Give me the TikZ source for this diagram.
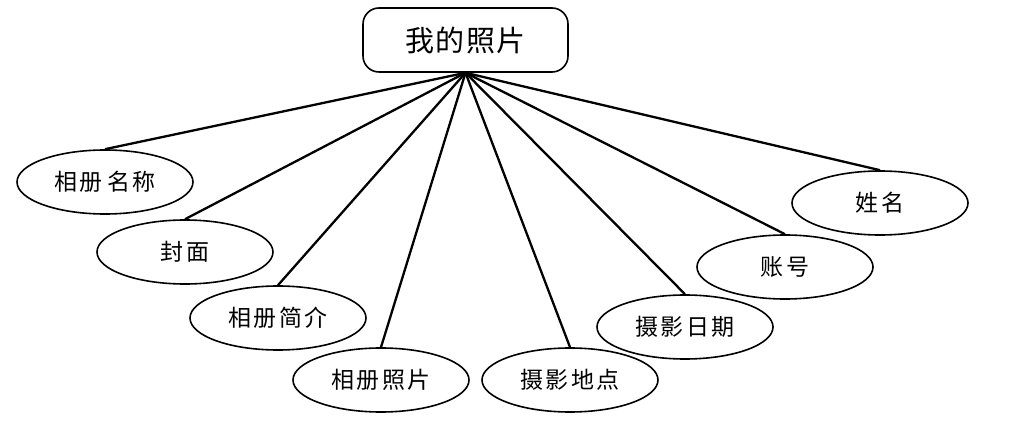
\documentclass[tikz,border=0pt]{standalone}
\usepackage{fontspec}
\newfontfamily\cjk{Noto Sans CJK SC}
\newfontfamily\cjkA[LetterSpace=9]{Noto Sans CJK SC}
\newfontfamily\cjkB[LetterSpace=4]{Noto Sans CJK SC}
\usetikzlibrary{shapes.geometric}
\begin{document}
\begin{tikzpicture}[x=1pt,y=-1pt,
  attr/.style={ellipse,draw,line width=1.6pt,minimum width=176pt,minimum height=64pt,inner sep=0pt,font=\cjkA\fontsize{23}{25}\selectfont},
  entity/.style={rectangle,rounded corners=16pt,draw,line width=1.6pt,minimum width=205pt,minimum height=64pt,inner sep=0pt,font=\cjkB\fontsize{29}{31}\selectfont},
  link/.style={line width=2.3pt}]
\useasboundingbox (0,0) rectangle (1011,435);
\node[entity] (top) at (465.5,40) {我的照片};
\node[attr] (a1) at (105,182) {相册\hspace{5pt}名称};
\node[attr] (a2) at (185,252) {封面};
\node[attr] (a3) at (278,318) {相册简介};
\node[attr] (a4) at (381,380) {相册照片};
\node[attr] (a5) at (570,380) {摄影地点};
\node[attr] (a6) at (685,327) {摄影日期};
\node[attr] (a7) at (785,267) {账号};
\node[attr] (a8) at (880,203) {姓名};
\foreach \n in {a1,a2,a3,a4,a5,a6,a7,a8}
  \draw[link] (top.south) -- (\n.north);
\end{tikzpicture}
\end{document}
